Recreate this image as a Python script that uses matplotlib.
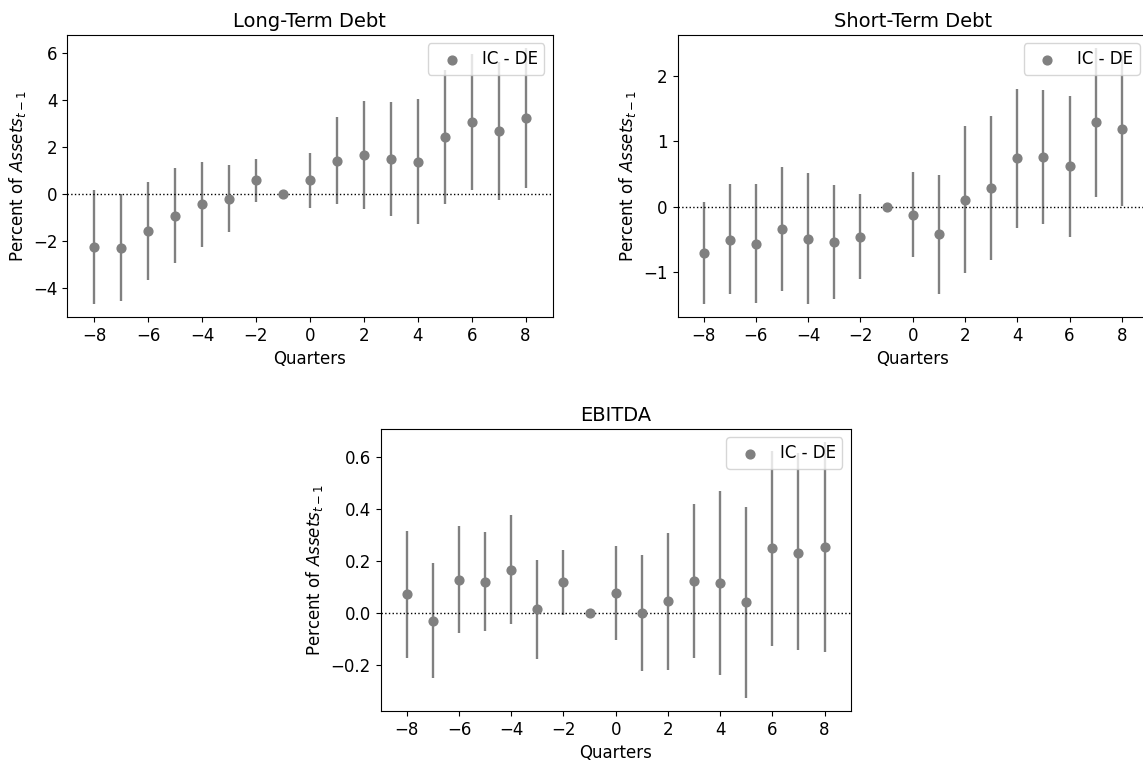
import numpy as np
import matplotlib
matplotlib.use('Agg')
import matplotlib.pyplot as plt

quarters = [-8, -7, -6, -5, -4, -3, -2, -1, 0, 1, 2, 3, 4, 5, 6, 7, 8]

# Long-term debt : estimate, lower and upper bound
lt_coef = [-2.24, -2.27, -1.56, -0.91, -0.43, -0.20, 0.60, 0.0, 0.60, 1.43, 1.67,
           1.50, 1.39, 2.45, 3.06, 2.70, 3.24]
lt_low = [-4.68, -4.55, -3.65, -2.91, -2.24, -1.62, -0.31, 0.0, -0.60, -0.40, -0.61,
          -0.94, -1.25, -0.41, 0.17, -0.23, 0.26]
lt_high = [0.18, 0.00, 0.52, 1.11, 1.39, 1.23, 1.49, 0.0, 1.77, 3.28, 3.97,
           3.94, 4.04, 5.30, 5.96, 5.65, 6.24]

# Short-term debt
st_coef = [-0.71, -0.51, -0.57, -0.34, -0.49, -0.54, -0.46, 0.0, -0.12, -0.42, 0.11,
           0.29, 0.74, 0.76, 0.62, 1.29, 1.19]
st_low = [-1.49, -1.34, -1.47, -1.29, -1.48, -1.41, -1.10, 0.0, -0.77, -1.33, -1.02,
          -0.81, -0.32, -0.27, -0.46, 0.15, 0.015]
st_high = [0.077, 0.35, 0.35, 0.60, 0.51, 0.33, 0.19, 0.0, 0.53, 0.49, 1.24,
           1.38, 1.80, 1.78, 1.70, 2.43, 2.37]

# EBITDA
eb_coef = [0.071, -0.031, 0.128, 0.119, 0.165, 0.015, 0.117, 0.0, 0.076, 0.0, 0.044,
           0.123, 0.114, 0.041, 0.249, 0.232, 0.254]
eb_low = [-0.174, -0.253, -0.079, -0.072, -0.045, -0.179, -0.009, 0.0, -0.106, -0.223, -0.219,
          -0.173, -0.241, -0.329, -0.127, -0.145, -0.151]
eb_high = [0.314, 0.192, 0.335, 0.312, 0.377, 0.204, 0.244, 0.0, 0.258, 0.223, 0.308,
           0.419, 0.469, 0.409, 0.622, 0.614, 0.659]

titles = ['Long-Term Debt', 'Short-Term Debt', 'EBITDA']
yticks = [[-4, -2, 0, 2, 4, 6], [-1, 0, 1, 2], [-0.2, 0.0, 0.2, 0.4, 0.6]]

W, H = 1143, 761
fig = plt.figure(figsize=(W / 100, H / 100), dpi=100)

# axes boxes in pixels: left, top, right, bottom
boxes = [(67.3, 35, 552.5, 317), (677.5, 35, 1148, 317), (380.7, 429, 850.7, 711)]
data = [(lt_coef, lt_low, lt_high), (st_coef, st_low, st_high), (eb_coef, eb_low, eb_high)]

for (l, t, r, b), (coef, low, high), title, yt in zip(boxes, data, titles, yticks):
    ax = fig.add_axes([l / W, (H - b) / H, (r - l) / W, (b - t) / H])
    ax.vlines(quarters, low, high, color='grey', linewidth=1.7)
    ax.scatter(quarters, coef, color='grey', s=40, label='IC - DE', zorder=3)
    ax.axhline(0, color='black', linestyle=':', linewidth=1)
    ax.set_xlim(-9, 9)
    ax.set_xticks([-8, -6, -4, -2, 0, 2, 4, 6, 8])
    ax.set_yticks(yt)
    ax.set_title(title, fontsize=14)
    ax.set_xlabel('Quarters', fontsize=12)
    ax.set_ylabel('Percent of $Assets_{t-1}$', fontsize=12)
    ax.tick_params(labelsize=12)
    ax.legend(loc='upper right', fontsize=12)

plt.savefig('out.png', dpi=100)
